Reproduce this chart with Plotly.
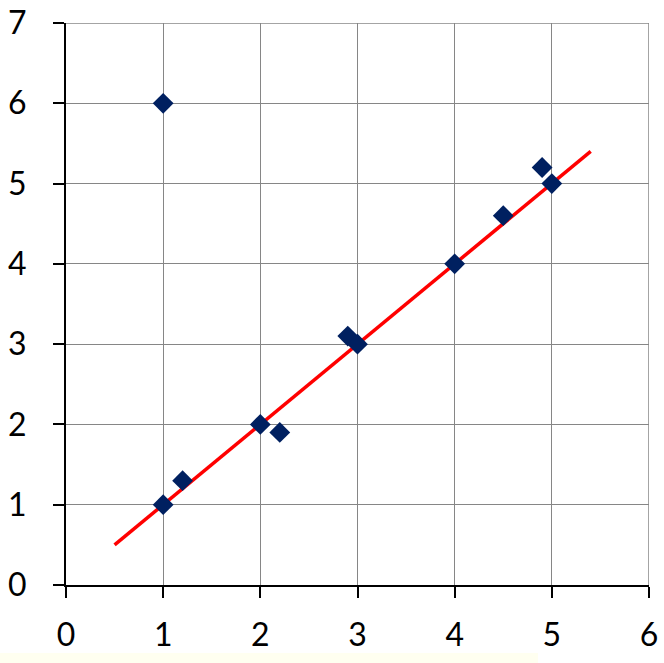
import plotly.graph_objects as go

x_pts = [1, 1, 1.2, 2, 2.2, 2.9, 3, 4, 4.5, 4.9, 5]
y_pts = [6, 1, 1.3, 2, 1.9, 3.1, 3, 4, 4.6, 5.2, 5]
fit_x = [0.5, 5.4]
fit_y = [0.5, 5.4]
x_ticks = [0, 1, 2, 3, 4, 5, 6]
y_ticks = [0, 1, 2, 3, 4, 5, 6, 7]

fig = go.Figure()
fig.add_trace(go.Scatter(x=fit_x, y=fit_y, mode="lines",
                         line=dict(color="#FF0000", width=3.5), showlegend=False))
fig.add_trace(go.Scatter(x=x_pts, y=y_pts, mode="markers",
                         marker=dict(symbol="diamond", size=16, color="#002060",
                                     line=dict(width=0)), showlegend=False))

font = dict(family="Lato", size=32, color="#000000")
fig.update_layout(
    width=664, height=663,
    margin=dict(l=66, r=15, t=23, b=78),
    paper_bgcolor="white", plot_bgcolor="white",
    xaxis=dict(range=[0, 6], tickvals=x_ticks, showgrid=True, gridcolor="#868686", gridwidth=1,
               showline=True, linecolor="black", linewidth=2, ticks="outside", ticklen=11,
               tickwidth=2, tickcolor="black", tickfont=font, zeroline=False, ticklabelstandoff=10,
               automargin=False),
    yaxis=dict(range=[0, 7], tickvals=y_ticks, showgrid=True, gridcolor="#868686", gridwidth=1,
               showline=True, linecolor="black", linewidth=2, ticks="outside", ticklen=11,
               tickwidth=2, tickcolor="black", tickfont=font, zeroline=False, ticklabelstandoff=20,
               automargin=False),
    shapes=[
        dict(type="line", xref="x", yref="y", x0=0, x1=6, y0=7, y1=7,
             line=dict(color="#868686", width=1.5), layer="below"),
        dict(type="line", xref="x", yref="y", x0=6, x1=6, y0=0, y1=7,
             line=dict(color="#868686", width=1.5), layer="below"),
        dict(type="rect", xref="paper", yref="paper", x0=-66/583, x1=(538-66)/583,
             y0=-78/562, y1=-68/562, fillcolor="#FFFFF0", line=dict(width=0), layer="below"),
    ],
)

fig.write_html("out.html", config={"displayModeBar": False},
               post_script="document.body.style.margin='0';document.body.style.overflow='hidden';")
